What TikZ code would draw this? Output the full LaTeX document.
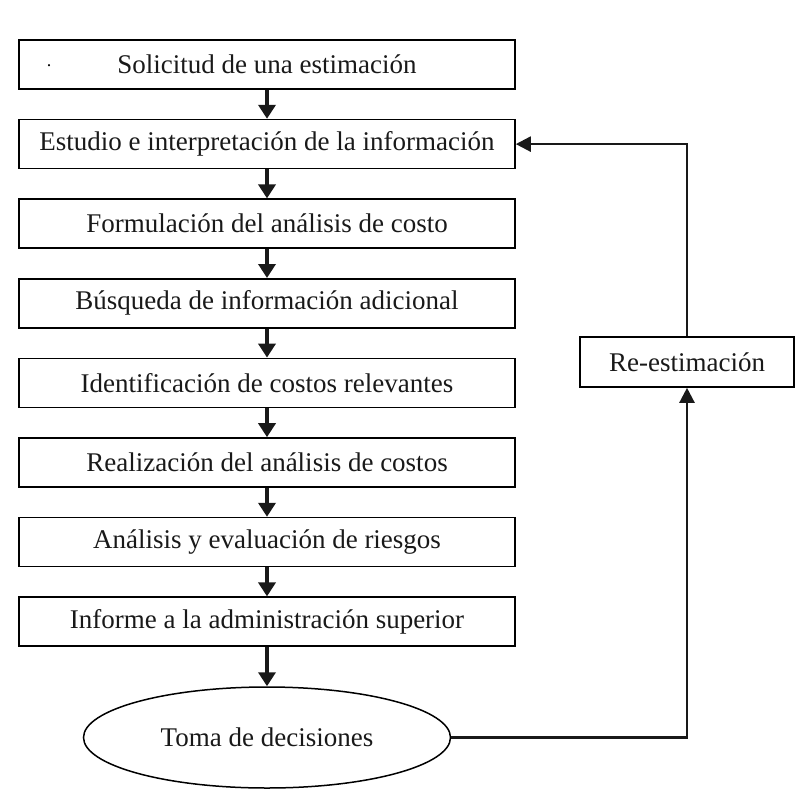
\documentclass[tikz,border=0pt]{standalone}
\usepackage{fontspec}
\setmainfont{Liberation Serif}
\usetikzlibrary{arrows.meta,shapes.geometric}
\tikzset{
  lbl/.style={font=\fontsize{27}{31}\selectfont, text=black!90},
  stepbox/.style={lbl, draw=black, line width=1.6pt, minimum width=496pt, minimum height=49pt, inner sep=0pt},
  decbox/.style={lbl, draw=black, line width=1.5pt, ellipse, minimum width=367pt, minimum height=101pt, inner sep=0pt},
  rebox/.style={lbl, draw=black, line width=1.6pt, minimum width=214pt, minimum height=50pt, inner sep=0pt},
  flow/.style={line width=4pt, draw=black!90, -{Triangle[width=17pt,length=14pt]}},
  back/.style={line width=2.4pt, draw=black!90, -{Triangle[width=15pt,length=15pt]}},
}
\begin{document}
\begin{tikzpicture}[x=1pt,y=-1pt]
\useasboundingbox (0,0) rectangle (798,798);
\node[stepbox] (b1) at (267,64.5) {Solicitud de una estimación};
\node[stepbox] (b2) at (267,144.1) {Estudio e interpretación de la información};
\node[stepbox] (b3) at (267,223.7) {Formulación del análisis de costo};
\node[stepbox] (b4) at (267,303.3) {Búsqueda de información adicional};
\node[stepbox] (b5) at (267,382.9) {Identificación de costos relevantes};
\node[stepbox] (b6) at (267,462.5) {Realización del análisis de costos};
\node[stepbox] (b7) at (267,542.1) {Análisis y evaluación de riesgos};
\node[stepbox] (b8) at (267,621.7) {Informe a la administración superior};
\node[decbox] (dec) at (267,737.5) {Toma de decisiones};
\node[rebox] (re) at (687,362) {Re-estimación};
\node[font=\fontsize{18}{20}\selectfont, inner sep=0pt] (dot) at (49,66) {.};
\draw[flow] (b1) -- (b2);
\draw[flow] (b2) -- (b3);
\draw[flow] (b3) -- (b4);
\draw[flow] (b4) -- (b5);
\draw[flow] (b5) -- (b6);
\draw[flow] (b6) -- (b7);
\draw[flow] (b7) -- (b8);
\draw[flow] (b8) -- (dec);
\draw[back] (dec.east) -- (dec.east -| re.south) -- (re.south);
\draw[back] (re.north) -- (re.north |- b2.east) -- (b2.east);
\end{tikzpicture}
\end{document}
